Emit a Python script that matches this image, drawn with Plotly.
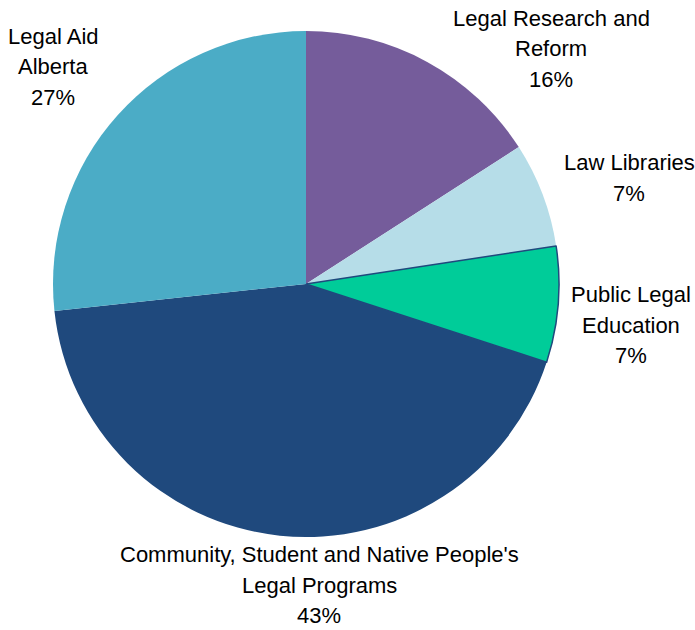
import plotly.graph_objects as go

categories = ["Legal Research and<br>Reform", "Law Libraries", "Public Legal<br>Education",
              "Community, Student and Native People's<br>Legal Programs", "Legal Aid<br>Alberta"]
values = [15.9, 6.7, 7.4, 43.3, 26.7]
colors = ["#755C9B", "#B6DDE8", "#00CC99", "#1F497D", "#4BACC6"]
line_widths = [0, 0, 1.5, 0, 0]

W, H = 695, 630
cx, cy, r = 306, 284, 253

# label block centres in pixels
label_pos = [(551, 49), (629, 178), (631, 325), (319, 585), (53, 67)]
line_gap = 30.5

fig = go.Figure(go.Pie(
    labels=categories,
    values=values,
    sort=False,
    direction="clockwise",
    rotation=0,
    marker=dict(colors=colors, line=dict(color="#1F497D", width=line_widths)),
    textinfo="none",
    hoverinfo="label+percent",
    showlegend=False,
    domain=dict(x=[(cx - r) / W, (cx + r) / W], y=[(H - cy - r) / H, (H - cy + r) / H]),
))

total = sum(values)
annotations = []
for lab, v, (x, y) in zip(categories, values, label_pos):
    lines = lab.split("<br>") + [f"{round(v / total * 100)}%"]
    n = len(lines)
    for i, t in enumerate(lines):
        ly = y + (i - (n - 1) / 2) * line_gap
        annotations.append(dict(
            text=t,
            x=x / W, y=1 - ly / H, xref="paper", yref="paper",
            xanchor="center", yanchor="middle", showarrow=False, align="center",
            font=dict(family="Liberation Sans, Arial", size=22, color="#000000"),
        ))

fig.update_layout(
    width=W, height=H,
    margin=dict(l=0, r=0, t=0, b=0),
    paper_bgcolor="white", plot_bgcolor="white",
    annotations=annotations,
)

fig.write_html(
    "out.html",
    config={"displayModeBar": False},
    post_script="document.body.style.margin='0';document.body.style.overflow='hidden';",
)
